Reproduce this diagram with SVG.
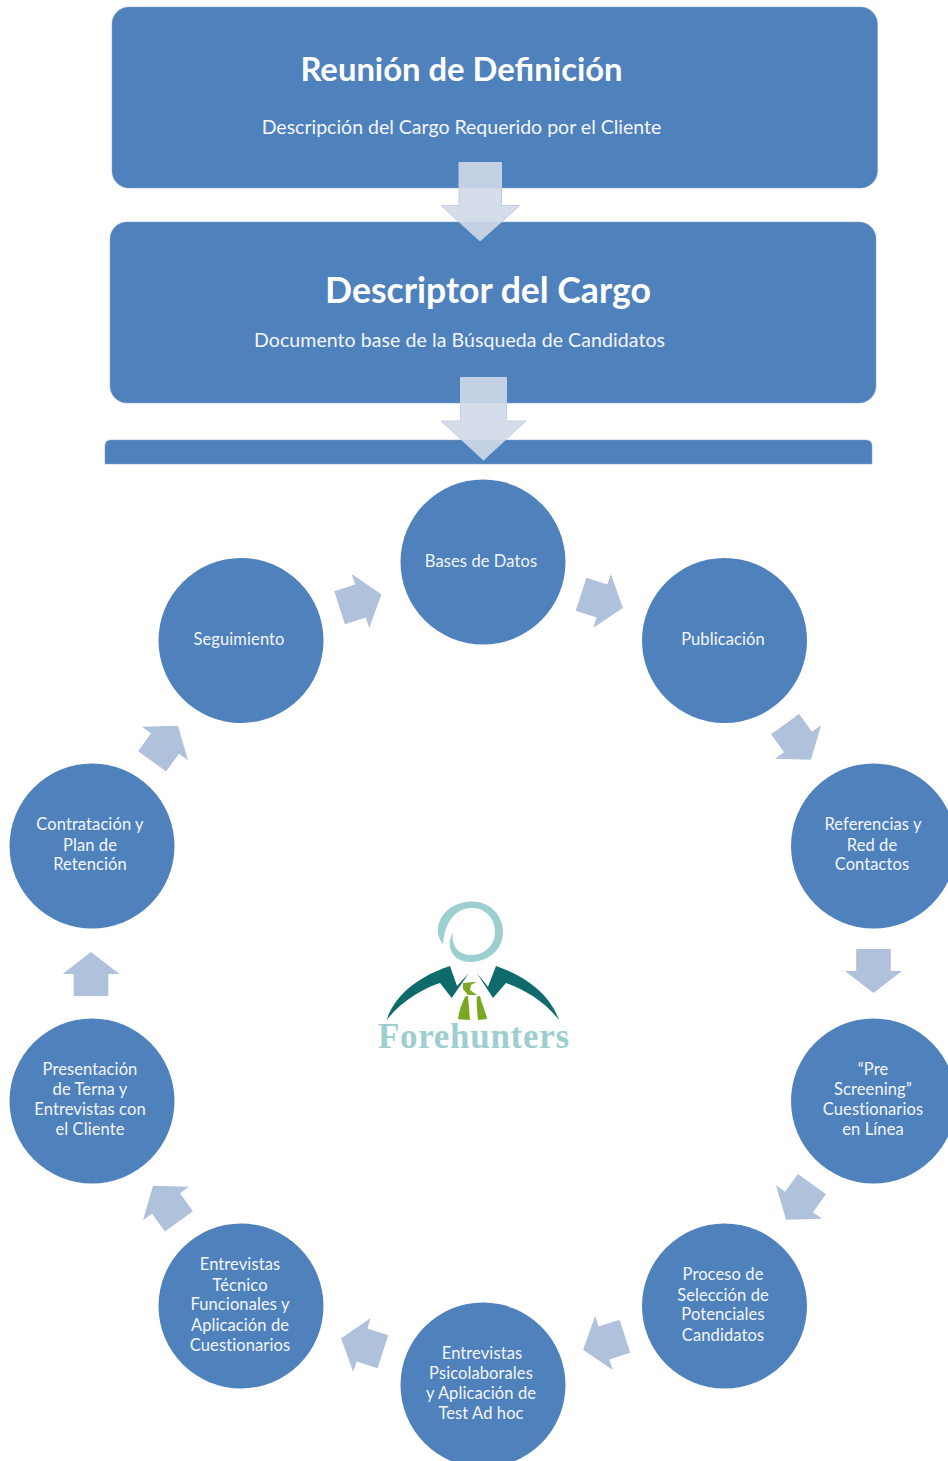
<svg xmlns="http://www.w3.org/2000/svg" width="948" height="1461" viewBox="0 0 948 1461">
<style>
.box{fill:#4f81bd;stroke:#7ba0d0;stroke-opacity:.5;stroke-width:1}
.node{fill:#4f81bd}
.t{font-family:Lato,"Open Sans",sans-serif;fill:#f3f6fb;text-anchor:middle}
.h{font-weight:700;fill:#fff}
.s{font-size:19.5px}
.c{font-size:16.5px;letter-spacing:.1px}
.da{fill:#d0d8e8;fill-opacity:.9;stroke:#c4d0e4;stroke-width:1}
.ra{fill:#b0c1dc}
</style>
<defs>
<polygon id="arrow" points="-22,-17.3 0,-17.3 0,-28.5 22,0 0,28.5 0,17.3 -22,17.3"/>
</defs>
<rect width="948" height="1461" fill="#fff"/>
<g id="box1"><rect class="box" x="112" y="7" width="765.500" height="181" rx="17"/>
<text class="t h" x="461.500" y="81" font-size="32.800">Reunión de Definición</text>
<text class="t s" x="461.500" y="134">Descripción del Cargo Requerido por el Cliente</text></g>
<g id="box2"><rect class="box" x="110" y="222" width="766" height="181" rx="17"/>
<text class="t h" x="488" y="303" font-size="35.600">Descriptor del Cargo</text>
<text class="t s" x="459.500" y="347" textLength="411">Documento base de la Búsqueda de Candidatos</text></g>
<g id="box3"><path class="box" d="M105,464V446Q105,440 111,440H866Q872,440 872,446V464Z" stroke="none"/></g>
<g id="connectors">
<polygon class="da" points="459,162.500 501.500,162.500 501.500,205.500 520,205.500 480,241 441,205.500 459,205.500"/>
<polygon class="da" points="460.500,377.500 506.500,377.500 506.500,421 526,421 483.500,460 441,421 460.500,421"/>
<use href="#arrow" class="ra" transform="translate(602,601) rotate(18)"/>
<use href="#arrow" class="ra" transform="translate(798,742) rotate(54)"/>
<use href="#arrow" class="ra" transform="translate(873.500,971) rotate(90)"/>
<use href="#arrow" class="ra" transform="translate(799,1202) rotate(126)"/>
<use href="#arrow" class="ra" transform="translate(604,1343) rotate(162)"/>
<use href="#arrow" class="ra" transform="translate(362,1345) rotate(198)"/>
<use href="#arrow" class="ra" transform="translate(166,1203.500) rotate(234)"/>
<use href="#arrow" class="ra" transform="translate(91,974) rotate(270)"/>
<use href="#arrow" class="ra" transform="translate(165,743.500) rotate(306)"/>
<use href="#arrow" class="ra" transform="translate(360.500,601) rotate(342)"/>
</g>
<g id="n1"><circle class="node" cx="483" cy="562" r="82.500"/><text class="t c" x="481" y="567">Bases de Datos</text></g>
<g id="n2"><circle class="node" cx="724.500" cy="640.500" r="82.500"/><text class="t c" x="723" y="645">Publicación</text></g>
<g id="n3"><circle class="node" cx="873.500" cy="846" r="82.500"/><text class="t c" x="873" y="830">Referencias y</text><text class="t c" x="872" y="851">Red de</text><text class="t c" x="872" y="870">Contactos</text></g>
<g id="n4"><circle class="node" cx="873.500" cy="1101" r="82.500"/><text class="t c" x="873" y="1075">“Pre</text><text class="t c" x="873" y="1095">Screening”</text><text class="t c" x="873" y="1115">Cuestionarios</text><text class="t c" x="873" y="1135">en Línea</text></g>
<g id="n5"><circle class="node" cx="724.500" cy="1306" r="82.500"/><text class="t c" x="723" y="1280">Proceso de</text><text class="t c" x="723" y="1301">Selección de</text><text class="t c" x="723" y="1320">Potenciales</text><text class="t c" x="723" y="1341">Candidatos</text></g>
<g id="n6"><circle class="node" cx="483" cy="1385" r="82.500"/><text class="t c" x="482" y="1359">Entrevistas</text><text class="t c" x="481" y="1379">Psicolaborales</text><text class="t c" x="481" y="1399">y Aplicación de</text><text class="t c" x="481" y="1419">Test Ad hoc</text></g>
<g id="n7"><circle class="node" cx="241" cy="1306" r="82.500"/><text class="t c" x="240" y="1270">Entrevistas</text><text class="t c" x="240" y="1291">Técnico</text><text class="t c" x="240" y="1310">Funcionales y</text><text class="t c" x="240" y="1331">Aplicación de</text><text class="t c" x="240" y="1351">Cuestionarios</text></g>
<g id="n8"><circle class="node" cx="92" cy="1101" r="82.500"/><text class="t c" x="90" y="1075">Presentación</text><text class="t c" x="90" y="1095">de Terna y</text><text class="t c" x="90" y="1115">Entrevistas con</text><text class="t c" x="90" y="1135">el Cliente</text></g>
<g id="n9"><circle class="node" cx="92" cy="846" r="82.500"/><text class="t c" x="90" y="830">Contratación y</text><text class="t c" x="90" y="851">Plan de</text><text class="t c" x="90" y="870">Retención</text></g>
<g id="n10"><circle class="node" cx="241" cy="640.500" r="82.500"/><text class="t c" x="239" y="645">Seguimiento</text></g>
<g id="logo">
<path fill="#9dced0" d="M453,933C451,945 458,955 471,955C485,955 495,945 495,932C495,918 485,908 472,908C457,908 445,920 443,944C439,939 437,934 438,928C440,912 455,901.500 472,901.500C490,901.500 503,915 503,932C503,950 488,962 470,962C452,962 445,945 453,933Z"/>
<path fill="#0f6b6b" d="M386.700,1020C392,1003 408,980 450,966L457,986L469,973L451.700,998L440,983C425,988 402,1000 386.700,1020Z"/>
<path fill="#0f6b6b" d="M559,1020C553,1003 537,980 496,966L488,986.700L476.700,973L493,998L506,983C521,988 544,1000 559,1020Z"/>
<path fill="#7aa821" d="M463,983L476.700,981.700L471,985L470,990L477,995L468,995L463,989ZM465,996.700L468,995.700L470,1020L458,1019.300C459,1010 462,1003 465,996.700ZM476.700,996.700L480,995.700C482,1005 486,1012 487,1019L478,1020C477,1010 476.500,1003 476.700,996.700Z"/>
<text x="473.500" y="1047.500" text-anchor="middle" font-family="Liberation Serif,serif" font-weight="700" font-size="35" fill="#9dced0" textLength="191">Forehunters</text>
</g>
</svg>
